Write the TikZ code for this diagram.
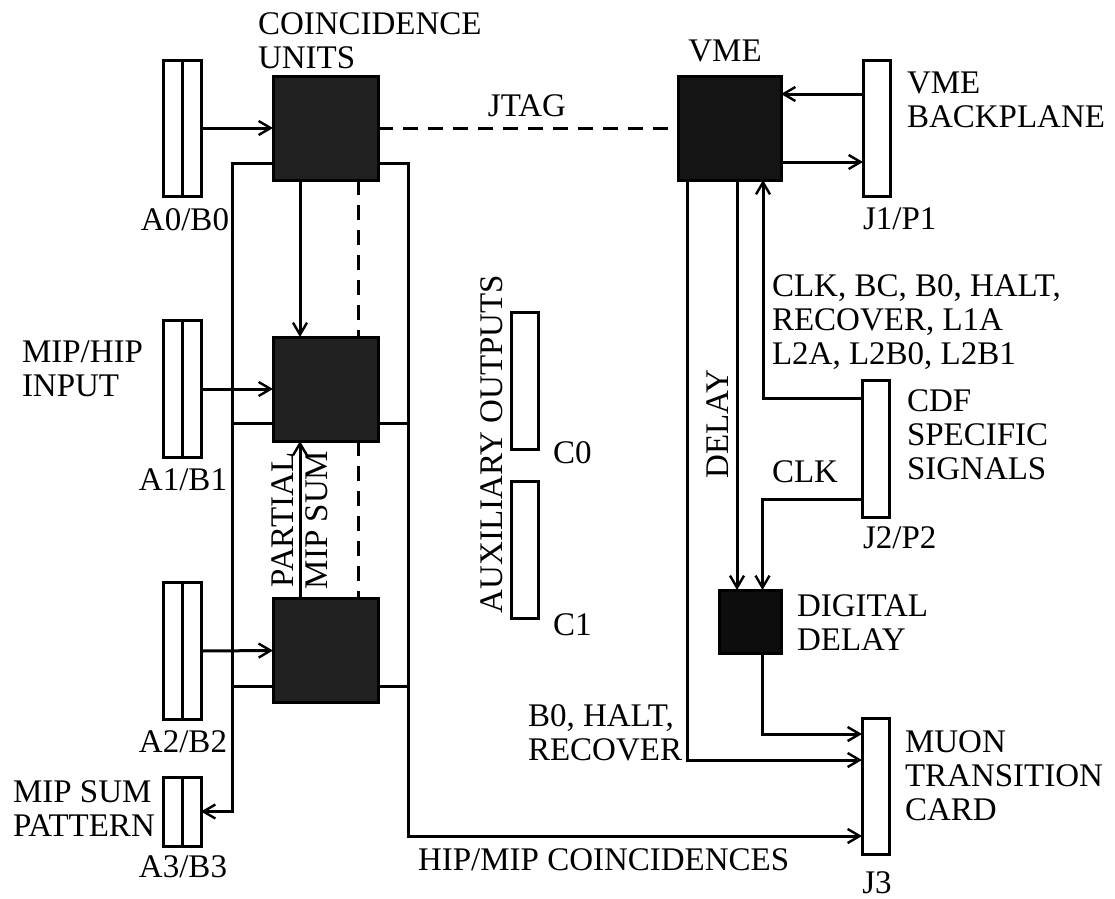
\documentclass[tikz,border=0pt]{standalone}
\usepackage{fontspec}
\setmainfont{Liberation Serif}
\usetikzlibrary{arrows.meta}
\begin{document}
\begin{tikzpicture}[x=1pt,y=-1pt,
  line width=3pt,
  every node/.style={inner sep=0pt,outer sep=0pt,font=\fontsize{33}{34}\selectfont},
  arr/.style={-{Straight Barb[length=12pt,width=14pt,line width=2.4pt]}},
  dsh/.style={dash pattern=on 15pt off 10pt},
  cu/.style={draw=black,fill=black!87,minimum width=105pt,minimum height=104pt},
  conn/.style={draw=black,fill=white,minimum width=27pt,minimum height=137pt},
  dconn/.style={draw=black,fill=white,minimum width=38pt},
  lbl/.style={align=left,anchor=north west},
]
\useasboundingbox (0,0) rectangle (1115,898);

% coincidence units
\node[cu] (cu1) at (325.5,128) {};
\node[cu] (cu2) at (325.5,389) {};
\node[cu] (cu3) at (325.5,650.5) {};
% double connectors
\node[dconn,minimum height=136pt] (a0) at (182,128) {};
\node[dconn,minimum height=137pt] (a1) at (182,389) {};
\node[dconn,minimum height=137pt] (a2) at (182,651) {};
\node[dconn,minimum height=69pt] (a3) at (182,811.5) {};
\foreach \n in {a0,a1,a2,a3} \draw (\n.north) -- (\n.south);
% right side
\node[cu,fill=black!92,minimum width=103pt] (vme) at (729.5,128) {};
\node[conn,minimum height=136pt] (j1) at (876.5,128) {};
\node[conn] (j2) at (876,448.5) {};
\node[conn,minimum height=136pt] (j3) at (875.5,786) {};
\node[conn] (c0) at (524.5,380.5) {};
\node[conn] (c1) at (524.5,549.5) {};
\node[draw=black,fill=black!95,minimum width=62pt,minimum height=63pt] (dd) at (750,621.5) {};

% inputs
\draw[arr] (a0.east) -- (cu1.west);
\draw[arr] (a1.east) -- (cu2.west);
\draw[arr] (a2.east) -- (cu3.west);
% JTAG
\draw[dsh] (cu1.east) -- (vme.west);
\draw[dsh] ([xshift=33]cu1.south) -- ([xshift=33]cu2.north);
\draw[dsh] ([xshift=33]cu2.south) -- ([xshift=33]cu3.north);
% vertical arrows between units
\draw[arr] ([xshift=-25.5]cu1.south) -- ([xshift=-25.5]cu2.north);
\draw[arr] ([xshift=-25.5]cu3.north) -- ([xshift=-25.5]cu2.south);
% left bus
\draw[arr] ([yshift=-35]cu1.west) -- ++(-41,0) |- (a3.east);
\draw ([yshift=-34]cu2.west) -- ++(-41,0);
\draw ([yshift=-35.5]cu3.west) -- ++(-41,0);
% right bus
\draw[arr] ([yshift=-35]cu1.east) -- ++(30,0) |- ([yshift=-50]j3.west);
\draw ([yshift=-34]cu2.east) -- ++(30,0);
\draw ([yshift=-35.5]cu3.east) -- ++(30,0);
% VME backplane
\draw[arr] ([yshift=34]j1.west) -- ([yshift=34]vme.east);
\draw[arr] ([yshift=-34]vme.east) -- ([yshift=-34]j1.west);
% VME downwards
\draw[arr] ([xshift=-42.5]vme.south) |- ([yshift=26]j3.west);
\draw[arr] ([xshift=7.5]vme.south) -- ([xshift=-13]dd.north);
\draw[arr] ([yshift=50.5]j2.west) -| ([xshift=33.5]vme.south);
\draw[arr] ([yshift=-50.5]j2.west) -| ([xshift=12.5]dd.north);
\draw[arr] ([xshift=12]dd.south) |- ([yshift=52]j3.west);

% labels
\node[lbl] (tcu) at (258,13) {COINCIDENCE\\UNITS};
\node[anchor=base] (ta0) at (185,230) {A0/B0};
\node[anchor=base] (ta1) at (183,490) {A1/B1};
\node[anchor=base] (ta2) at (183,752) {A2/B2};
\node[anchor=base] (ta3) at (183,877) {A3/B3};
\node[lbl] (tin) at (22,341) {MIP/HIP\\INPUT};
\node[lbl] (tpat) at (13,781) {MIP SUM\\PATTERN};
\node[anchor=base] (tjtag) at (527,116) {JTAG};
\node[anchor=base] (tvme) at (725,61) {VME};
\node[lbl] (tbp) at (907,72) {VME\\BACKPLANE};
\node[anchor=base west] (tj1) at (863,229) {J1/P1};
\node[lbl] (tsig) at (772,275) {CLK, BC, B0, HALT,\\RECOVER, L1A\\L2A, L2B0, L2B1};
\node[lbl] (tcdf) at (907,390) {CDF\\SPECIFIC\\SIGNALS};
\node[anchor=base west] (tclk) at (772,482) {CLK};
\node[anchor=base west] (tj2) at (863,548) {J2/P2};
\node[rotate=90] (tdel) at (718,424) {DELAY};
\node[lbl] (tdd) at (797,595) {DIGITAL\\DELAY};
\node[lbl] (tb0) at (528,705) {B0, HALT,\\RECOVER};
\node[lbl] (tmu) at (905,731) {MUON\\TRANSITION\\CARD};
\node[anchor=base] (tj3) at (877,893) {J3};
\node[anchor=base west] (thip) at (418,870) {HIP/MIP COINCIDENCES};
\node[rotate=90] (taux) at (492,444) {AUXILIARY OUTPUTS};
\node[anchor=base west] (tc0) at (553,463) {C0};
\node[anchor=base west] (tc1) at (553,635) {C1};
\node[rotate=90,align=center] (tpms) at (300,520) {PARTIAL\\MIP SUM};
\end{tikzpicture}
\end{document}
